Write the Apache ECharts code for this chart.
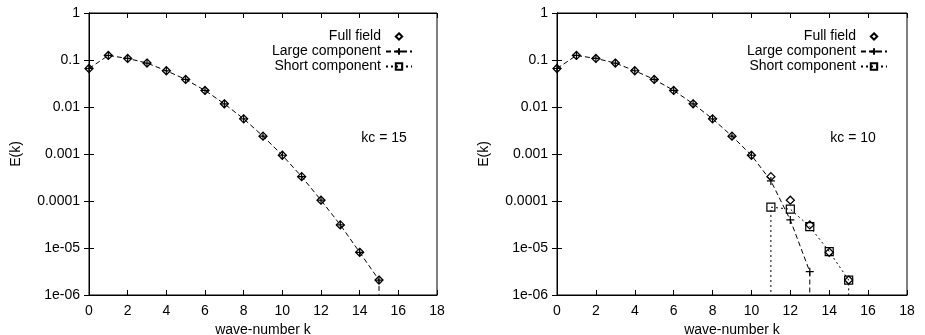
<!DOCTYPE html>
<html>
<head>
<meta charset="utf-8">
<script src="https://cdn.jsdelivr.net/npm/echarts@6/dist/echarts.min.js"></script>
<style>
  html, body { margin: 0; padding: 0; background: #fff; }
  #chart { width: 925px; height: 335px; }
</style>
</head>
<body>
<div id="chart"></div>
<script>
// ---------------- data ----------------
const kFull = [0, 1, 2, 3, 4, 5, 6, 7, 8, 9, 10, 11, 12, 13, 14, 15];
const fullField = [0.066, 0.125, 0.108, 0.086, 0.059, 0.0386, 0.0225, 0.0117, 0.0056, 0.0024,
                   0.00094, 0.00033, 0.000104, 3.1e-5, 8.1e-6, 2.08e-6];

// kc = 15 : large component equals the full field, drops to zero after k = 15
const kLargeLeft = [0, 1, 2, 3, 4, 5, 6, 7, 8, 9, 10, 11, 12, 13, 14, 15, 15];
const largeLeft = [0.066, 0.125, 0.108, 0.086, 0.059, 0.0386, 0.0225, 0.0117, 0.0056, 0.0024,
                   0.00094, 0.00033, 0.000104, 3.1e-5, 8.1e-6, 2.08e-6, 0];
const kShortLeft = [];
const shortLeft = [];

// kc = 10
const kLargeRight = [0, 1, 2, 3, 4, 5, 6, 7, 8, 9, 10, 11, 12, 13, 13];
const largeRight = [0.066, 0.125, 0.108, 0.086, 0.059, 0.0386, 0.0225, 0.0117, 0.0056, 0.0024,
                    0.00094, 0.000268, 3.95e-5, 3.13e-6, 0];
const kShortRight = [11, 11, 12, 13, 14, 15, 15];
const shortRight = [0, 7.4e-5, 6.7e-5, 2.85e-5, 8.4e-6, 2.08e-6, 0];

const yTickLabels = ['1e-06', '1e-05', '0.0001', '0.001', '0.01', '0.1', '1'];
const kcLabels = ['kc = 15', 'kc = 10'];
const legendNames = ['Full field', 'Large component', 'Short component'];

// ---------------- helpers ----------------
const FONT = 'Liberation Sans, Arial, sans-serif';
const FS = 14;
const ZERO = 1e-12; // zero on a log scale: line falls off the bottom of the plot

function pairs(ks, es) {
    return ks.map((k, i) => es[i] > 0 ? [k, es[i]] : { value: [k, ZERO], symbol: 'none' });
}

const plusPath = 'path://M0,5L10,5M5,0L5,10';

function axesFor(gridIndex) {
    const xBase = {
        gridIndex: gridIndex, type: 'value', min: 0, max: 18, interval: 2,
        axisLine: { lineStyle: { color: '#000', width: 1 } },
        axisTick: { inside: true, length: 5, lineStyle: { color: '#000' } },
        splitLine: { show: false }
    };
    const yBase = {
        gridIndex: gridIndex, type: 'log', logBase: 10, min: 1e-6, max: 1,
        axisLine: { show: true, lineStyle: { color: '#000', width: 1 } },
        axisTick: { inside: true, length: 5, lineStyle: { color: '#000' } },
        splitLine: { show: false }
    };
    const xs = [
        Object.assign({}, xBase, {
            position: 'bottom',
            name: 'wave-number k', nameLocation: 'middle', nameGap: 20,
            nameTextStyle: { fontFamily: FONT, fontSize: FS, color: '#000' },
            axisLabel: { fontFamily: FONT, fontSize: FS, color: '#000', margin: 9 }
        }),
        Object.assign({}, xBase, { position: 'top', axisLabel: { show: false } })
    ];
    const ys = [
        Object.assign({}, yBase, {
            position: 'left',
            name: 'E(k)', nameLocation: 'middle', nameGap: 66,
            nameTextStyle: { fontFamily: FONT, fontSize: FS, color: '#000' },
            axisLabel: {
                fontFamily: FONT, fontSize: FS, color: '#000', margin: 9,
                formatter: v => yTickLabels[Math.round(Math.log10(v)) + 6]
            }
        }),
        Object.assign({}, yBase, { position: 'right', axisLabel: { show: false } })
    ];
    return { xs, ys };
}

function seriesFor(gridIndex, kLarge, eLarge, kShort, eShort) {
    const ax = gridIndex * 2;
    return [
        {
            name: 'Large component', type: 'line', xAxisIndex: ax, yAxisIndex: ax,
            data: pairs(kLarge, eLarge),
            symbol: plusPath, symbolSize: 8,
            itemStyle: { color: 'transparent', borderColor: '#000', borderWidth: 1.2 },
            lineStyle: { color: '#000', width: 1, type: [5, 3] },
            showAllSymbol: true, z: 2
        },
        {
            name: 'Short component', type: 'line', xAxisIndex: ax, yAxisIndex: ax,
            data: pairs(kShort, eShort),
            symbol: 'rect', symbolSize: 8,
            itemStyle: { color: 'transparent', borderColor: '#000', borderWidth: 1.2 },
            lineStyle: { color: '#000', width: 1, type: [2, 3] },
            showAllSymbol: true, z: 2
        },
        {
            // points only: line kept invisible so the legend shows just the diamond
            name: 'Full field', type: 'line', xAxisIndex: ax, yAxisIndex: ax,
            data: pairs(kFull, fullField),
            symbol: 'diamond', symbolSize: 8,
            itemStyle: { color: 'transparent', borderColor: '#000', borderWidth: 1.3 },
            lineStyle: { width: 0, opacity: 0 },
            showAllSymbol: true, z: 3
        }
    ];
}

function legendFor(right) {
    return {
        data: legendNames, orient: 'vertical', align: 'right',
        right: right, top: 24, itemWidth: 26, itemHeight: 8, itemGap: 0,
        selectedMode: false,
        textStyle: { fontFamily: FONT, fontSize: FS, color: '#000', lineHeight: 15 }
    };
}

// ---------------- chart ----------------
const chart = echarts.init(document.getElementById('chart'), null, { renderer: 'canvas' });
const a0 = axesFor(0);
const a1 = axesFor(1);

chart.setOption({
    backgroundColor: '#fff',
    animation: false,
    grid: [
        { left: 89, top: 13, width: 348, height: 282, outerBoundsMode: 'none',
          show: true, borderColor: '#000', borderWidth: 1 },
        { left: 557, top: 13, width: 350, height: 282, outerBoundsMode: 'none',
          show: true, borderColor: '#000', borderWidth: 1 }
    ],
    xAxis: a0.xs.concat(a1.xs),
    yAxis: a0.ys.concat(a1.ys),
    legend: [legendFor(925 - 418), legendFor(925 - 893)],
    graphic: [
        { type: 'text', x: 384, y: 138, style: { text: kcLabels[0], font: FS + 'px ' + FONT, fill: '#000', align: 'center', verticalAlign: 'middle' } },
        { type: 'text', x: 853, y: 138, style: { text: kcLabels[1], font: FS + 'px ' + FONT, fill: '#000', align: 'center', verticalAlign: 'middle' } }
    ],
    series: seriesFor(0, kLargeLeft, largeLeft, kShortLeft, shortLeft)
        .concat(seriesFor(1, kLargeRight, largeRight, kShortRight, shortRight))
});
</script>
</body>
</html>
